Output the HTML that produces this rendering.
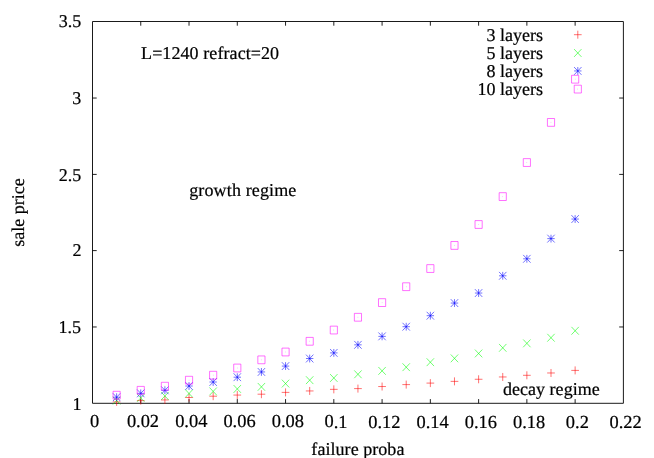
<!DOCTYPE html>
<html>
<head>
<meta charset="utf-8">
<title>sale price vs failure proba</title>
<style>
html, body { margin: 0; padding: 0; background: #ffffff; }
body { width: 654px; height: 458px; overflow: hidden; }
svg { display: block; }
text { font-family: "Liberation Serif", serif; font-size: 18px; fill: #000000; stroke: #000000; stroke-width: 0.22; text-rendering: geometricPrecision; }
.tx { filter: grayscale(1); }
.num text { font-size: 18.4px; }
.ax { stroke: #000000; stroke-width: 0.9; fill: none; stroke-linejoin: round; }
.tk { stroke: #000000; stroke-width: 0.88; fill: none; }
.r { stroke: #ff0000; }
.g { stroke: #00ff00; }
.b { stroke: #0000ff; }
.m { stroke: #ff00ff; }
.pt { stroke-width: 0.56; fill: none; }
</style>
</head>
<body>
<svg width="654" height="458" viewBox="0 0 654 458">
<rect x="0" y="0" width="654" height="458" fill="#ffffff"/>

<defs>
<path id="plus" d="M-3.85 0H3.85M0 -4V4"/>
<path id="cross" d="M-3.7 -3.9L3.7 3.9M-3.7 3.9L3.7 -3.9"/>
<path id="star" d="M-3.7 0H3.7M0 -3.9V3.9M-3.7 -3.9L3.7 3.9M-3.7 3.9L3.7 -3.9"/>
<path id="box" d="M-3.58 -3.9H3.58V3.9H-3.58ZM-0.2 0H0.2"/>
</defs>
<rect class="ax" x="92.5" y="21.5" width="530.9" height="381.8"/>
<path class="tk" d="M140.76 403.3v-4.2M140.76 21.5v4.2M189.03 403.3v-4.2M189.03 21.5v4.2M237.29 403.3v-4.2M237.29 21.5v4.2M285.55 403.3v-4.2M285.55 21.5v4.2M333.82 403.3v-4.2M333.82 21.5v4.2M382.08 403.3v-4.2M382.08 21.5v4.2M430.35 403.3v-4.2M430.35 21.5v4.2M478.61 403.3v-4.2M478.61 21.5v4.2M526.87 403.3v-4.2M526.87 21.5v4.2M575.14 403.3v-4.2M575.14 21.5v4.2M92.5 98.04h4.2M623.4 98.04h-4.2M92.5 174.4h4.2M623.4 174.4h-4.2M92.5 250.6h4.2M623.4 250.6h-4.2M92.5 326.97h4.2M623.4 326.97h-4.2"/>
<g class="tx" transform="rotate(0.02 327 229)">
<g text-anchor="end">
<text x="81.15" y="27">3.5</text>
<text x="81.15" y="104">3</text>
<text x="81.15" y="181">2.5</text>
<text x="81.6" y="256.5">2</text>
<text x="81.15" y="333.5">1.5</text>
<text x="81.6" y="410.3">1</text>
</g>
<g class="num" text-anchor="middle">
<text x="94.8" y="427.5">0</text>
<text x="143.06" y="427.5">0.02</text>
<text x="191.33" y="427.5">0.04</text>
<text x="239.59" y="427.5">0.06</text>
<text x="287.85" y="427.5">0.08</text>
<text x="336.12" y="427.5">0.1</text>
<text x="384.38" y="427.5">0.12</text>
<text x="432.65" y="427.5">0.14</text>
<text x="480.91" y="427.5">0.16</text>
<text x="529.17" y="427.5">0.18</text>
<text x="577.44" y="427.5">0.2</text>
<text x="625.7" y="427.5">0.22</text>
</g>
<text x="358" y="454.7" text-anchor="middle" letter-spacing="0.05">failure proba</text>
</g>
<g class="tx"><text transform="translate(24.2 212.5) rotate(-90)" text-anchor="middle">sale price</text></g>
<g class="tx" transform="rotate(0.02 327 229)">
<text x="141" y="58.6" letter-spacing="0.08">L=1240 refract=20</text>
<text x="189.2" y="196.3" letter-spacing="0.14">growth regime</text>
<text x="503" y="394.8" letter-spacing="0.03">decay regime</text>
<g text-anchor="end">
<text x="543" y="40.8">3 layers</text>
<text x="543" y="58.7">5 layers</text>
<text x="543" y="76.55">8 layers</text>
<text x="543" y="94.7">10 layers</text>
</g>
</g>
<g class="pt r">
<use href="#plus" x="577.8" y="34.7"/>
<use href="#plus" x="116.63" y="401.9"/>
<use href="#plus" x="140.76" y="400.6"/>
<use href="#plus" x="164.9" y="399.95"/>
<use href="#plus" x="189.03" y="397.5"/>
<use href="#plus" x="213.16" y="396.2"/>
<use href="#plus" x="237.29" y="395.07"/>
<use href="#plus" x="261.42" y="394.2"/>
<use href="#plus" x="285.55" y="392.38"/>
<use href="#plus" x="309.69" y="390.94"/>
<use href="#plus" x="333.82" y="389.35"/>
<use href="#plus" x="357.95" y="388.6"/>
<use href="#plus" x="382.08" y="386.54"/>
<use href="#plus" x="406.21" y="384.6"/>
<use href="#plus" x="430.35" y="383.1"/>
<use href="#plus" x="454.48" y="381.36"/>
<use href="#plus" x="478.61" y="379.28"/>
<use href="#plus" x="502.74" y="376.96"/>
<use href="#plus" x="526.87" y="375.3"/>
<use href="#plus" x="551" y="372.97"/>
<use href="#plus" x="575.14" y="370.4"/>
</g>
<g class="pt g">
<use href="#cross" x="577.8" y="53"/>
<use href="#cross" x="116.63" y="400.6"/>
<use href="#cross" x="140.76" y="397.9"/>
<use href="#cross" x="164.9" y="396"/>
<use href="#cross" x="189.03" y="393.5"/>
<use href="#cross" x="213.16" y="391.4"/>
<use href="#cross" x="237.29" y="388.95"/>
<use href="#cross" x="261.42" y="386.87"/>
<use href="#cross" x="285.55" y="383.57"/>
<use href="#cross" x="309.69" y="380.18"/>
<use href="#cross" x="333.82" y="377.98"/>
<use href="#cross" x="357.95" y="374.3"/>
<use href="#cross" x="382.08" y="370.88"/>
<use href="#cross" x="406.21" y="367.2"/>
<use href="#cross" x="430.35" y="362.2"/>
<use href="#cross" x="454.48" y="358.36"/>
<use href="#cross" x="478.61" y="353.47"/>
<use href="#cross" x="502.74" y="347.84"/>
<use href="#cross" x="526.87" y="343.36"/>
<use href="#cross" x="551" y="337.74"/>
<use href="#cross" x="575.14" y="330.76"/>
</g>
<g class="pt b">
<use href="#star" x="577.8" y="70.95"/>
<use href="#star" x="116.63" y="397.2"/>
<use href="#star" x="140.76" y="393.35"/>
<use href="#star" x="164.9" y="390.3"/>
<use href="#star" x="189.03" y="386"/>
<use href="#star" x="213.16" y="382"/>
<use href="#star" x="237.29" y="377.2"/>
<use href="#star" x="261.42" y="371.95"/>
<use href="#star" x="285.55" y="366.08"/>
<use href="#star" x="309.69" y="358.53"/>
<use href="#star" x="333.82" y="352.9"/>
<use href="#star" x="357.95" y="344.83"/>
<use href="#star" x="382.08" y="336.38"/>
<use href="#star" x="406.21" y="326.7"/>
<use href="#star" x="430.35" y="315.7"/>
<use href="#star" x="454.48" y="303.07"/>
<use href="#star" x="478.61" y="293.04"/>
<use href="#star" x="502.74" y="275.8"/>
<use href="#star" x="526.87" y="258.8"/>
<use href="#star" x="551" y="238.62"/>
<use href="#star" x="575.14" y="219.05"/>
</g>
<g class="pt m">
<use href="#box" x="577.8" y="89.1"/>
<use href="#box" x="116.63" y="395.2"/>
<use href="#box" x="140.76" y="390.3"/>
<use href="#box" x="164.9" y="386.2"/>
<use href="#box" x="189.03" y="380.2"/>
<use href="#box" x="213.16" y="375.2"/>
<use href="#box" x="237.29" y="368"/>
<use href="#box" x="261.42" y="359.84"/>
<use href="#box" x="285.55" y="352"/>
<use href="#box" x="309.69" y="341.3"/>
<use href="#box" x="333.82" y="330.05"/>
<use href="#box" x="357.95" y="317.27"/>
<use href="#box" x="382.08" y="302.6"/>
<use href="#box" x="406.21" y="286.7"/>
<use href="#box" x="430.35" y="268.55"/>
<use href="#box" x="454.48" y="245.43"/>
<use href="#box" x="478.61" y="224.5"/>
<use href="#box" x="502.74" y="196.6"/>
<use href="#box" x="526.87" y="162.54"/>
<use href="#box" x="551" y="122.4"/>
<use href="#box" x="575.14" y="79.2"/>
</g>
</svg>
</body>
</html>
